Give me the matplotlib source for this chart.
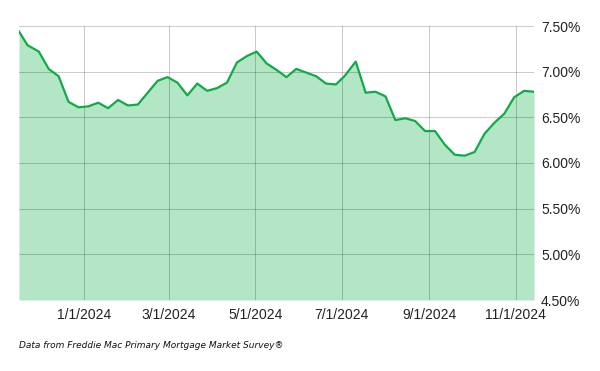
import matplotlib
matplotlib.use("Agg")
import matplotlib.pyplot as plt
import pandas as pd

# Freddie Mac PMMS 30-year fixed, weekly
dates = [
    "2023-11-16", "2023-11-22", "2023-11-30", "2023-12-07", "2023-12-14", "2023-12-21", "2023-12-28",
    "2024-01-04", "2024-01-11", "2024-01-18", "2024-01-25", "2024-02-01", "2024-02-08", "2024-02-15",
    "2024-02-22", "2024-02-29", "2024-03-07", "2024-03-14", "2024-03-21", "2024-03-28", "2024-04-04",
    "2024-04-11", "2024-04-18", "2024-04-25", "2024-05-02", "2024-05-09", "2024-05-16", "2024-05-23",
    "2024-05-30", "2024-06-06", "2024-06-13", "2024-06-20", "2024-06-27", "2024-07-03", "2024-07-11",
    "2024-07-18", "2024-07-25", "2024-08-01", "2024-08-08", "2024-08-15", "2024-08-22", "2024-08-29",
    "2024-09-05", "2024-09-12", "2024-09-19", "2024-09-26", "2024-10-03", "2024-10-10", "2024-10-17",
    "2024-10-24", "2024-10-31", "2024-11-07", "2024-11-14",
]
rates = [
    7.44, 7.29, 7.22, 7.03, 6.95, 6.67, 6.61,
    6.62, 6.66, 6.60, 6.69, 6.63, 6.64, 6.77,
    6.90, 6.94, 6.88, 6.74, 6.87, 6.79, 6.82,
    6.88, 7.10, 7.17, 7.22, 7.09, 7.02, 6.94,
    7.03, 6.99, 6.95, 6.87, 6.86, 6.95, 7.11,
    6.77, 6.78, 6.73, 6.47, 6.49, 6.46, 6.35,
    6.35, 6.20, 6.09, 6.08, 6.12, 6.32, 6.44,
    6.54, 6.72, 6.79, 6.78,
]
x_ticks = ["2024-01-01", "2024-03-01", "2024-05-01", "2024-07-01", "2024-09-01", "2024-11-01"]
y_ticks = [4.5, 5.0, 5.5, 6.0, 6.5, 7.0, 7.5]
note = "Data from Freddie Mac Primary Mortgage Market Survey®"

plt.rcParams["font.family"] = ["Liberation Sans", "DejaVu Sans"]

x = pd.to_datetime(dates)
xt = pd.to_datetime(x_ticks)

fig = plt.figure(figsize=(6, 3.71), dpi=100)
ax = fig.add_axes([19 / 600, 71 / 371, (534 - 19) / 600, (300 - 26) / 371])

ax.fill_between(x, rates, 4.5, color="#b2e6c4", lw=0, zorder=1)
ax.plot(x, rates, color="#12aa48", lw=1.6, zorder=3)

ax.set_xlim(x[0], x[-1])
ax.set_ylim(4.5, 7.5)
ax.set_yticks(y_ticks)
ax.set_yticklabels([f"{v:.2f}%" for v in y_ticks])
ax.set_xticks(xt)
ax.set_xticklabels([f"{d.month}/{d.day}/{d.year}" for d in xt])

ax.yaxis.tick_right()
ax.tick_params(axis="y", length=0, pad=5, labelsize=10, colors="#222222")
ax.tick_params(axis="x", length=0, pad=6, labelsize=10, colors="#222222")
ax.grid(True, color="black", alpha=0.2, lw=0.75, zorder=2)
ax.set_axisbelow(False)
for s in ax.spines.values():
    s.set_visible(False)

fig.text(19 / 600, 1 - 345 / 371, note, fontsize=6.45, style="italic",
         family="DejaVu Sans", va="center", ha="left", color="#111111")

fig.savefig("out.png", dpi=100)
